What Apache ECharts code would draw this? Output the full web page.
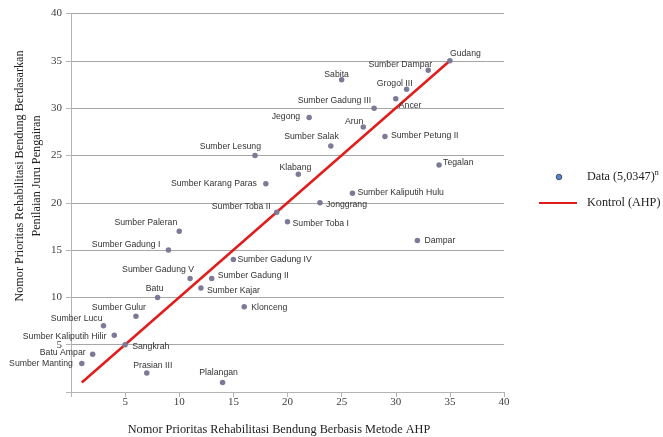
<!DOCTYPE html>
<html>
<head>
<meta charset="utf-8">
<script src="https://cdn.jsdelivr.net/npm/echarts@6/dist/echarts.min.js"></script>
<style>
  html, body { margin: 0; padding: 0; background: #ffffff; }
  #chart { width: 663px; height: 437px; }
</style>
</head>
<body>
<div id="chart"></div>
<script>
// Weir names, ordered by their AHP priority rank
const bendungNames = [
  'Sumber Manting', 'Batu Ampar', 'Sumber Lucu', 'Sumber Kaliputih Hilir', 'Sangkrah',
  'Sumber Gulur', 'Prasian III', 'Batu', 'Sumber Gadung I', 'Sumber Paleran',
  'Sumber Gadung V', 'Sumber Kajar', 'Sumber Gadung II', 'Plalangan', 'Sumber Gadung IV',
  'Klonceng', 'Sumber Lesung', 'Sumber Karang Paras', 'Sumber Toba II', 'Sumber Toba I',
  'Klabang', 'Jegong', 'Jonggrang', 'Sumber Salak', 'Sabita',
  'Sumber Kaliputih Hulu', 'Arun', 'Sumber Gadung III', 'Sumber Petung II', 'Ancer',
  'Grogol III', 'Dampar', 'Sumber Dampar', 'Tegalan', 'Gudang'
];
// Priority number from the AHP method (x)
const ahpRank = [
  1, 2, 3, 4, 5, 6, 7, 8, 9, 10, 11, 12, 13, 14, 15, 16, 17, 18,
  19, 20, 21, 22, 23, 24, 25, 26, 27, 28, 29, 30, 31, 32, 33, 34, 35
];
// Priority number from the irrigation officers' assessment (y)
const juruRank = [
  3, 4, 7, 6, 5, 8, 2, 10, 15, 17, 12, 11, 12, 1, 14, 9, 25, 22,
  19, 18, 23, 29, 20, 26, 33, 21, 28, 30, 27, 31, 32, 16, 34, 24, 35
];
// Control line (AHP against itself)
const kontrolX = [1, 35];
const kontrolY = [1, 35];

const seriesNames = ['Data (5,0347)', 'Kontrol (AHP)'];
const dataSuperscript = 'n';
const xTitle = 'Nomor Prioritas Rehabilitasi Bendung Berbasis Metode AHP';
const yTitleLines = ['Nomor Prioritas Rehabilitasi Bendung Berdasarkan', 'Penilaian Juru Pengairan'];

// Label placement for each point: text alignment and offset from the dot (px)
const labelPlace = {
  'Sumber Manting': ['right', -9, 0],
  'Batu Ampar': ['right', -7, -2],
  'Sumber Lucu': ['right', -1, -7],
  'Sumber Kaliputih Hilir': ['right', -8, 1],
  'Sangkrah': ['left', 7, 2],
  'Sumber Gulur': ['right', 10, -9],
  'Prasian III': ['center', 6, -7],
  'Batu': ['center', -3, -9],
  'Sumber Gadung I': ['right', -8, -5],
  'Sumber Paleran': ['right', -2, -9],
  'Sumber Gadung V': ['right', 4, -9],
  'Sumber Kajar': ['left', 6, 3],
  'Sumber Gadung II': ['left', 6, -3],
  'Plalangan': ['center', -4, -10],
  'Sumber Gadung IV': ['left', 4, 0],
  'Klonceng': ['left', 7, 1],
  'Sumber Lesung': ['right', 6, -8.5],
  'Sumber Karang Paras': ['right', -9, 0],
  'Sumber Toba II': ['right', -6, -6],
  'Sumber Toba I': ['left', 5, 2],
  'Klabang': ['right', 13, -7],
  'Jegong': ['right', -9, -1],
  'Jonggrang': ['left', 6, 2],
  'Sumber Salak': ['right', 8, -9.5],
  'Sabita': ['center', -5, -5],
  'Sumber Kaliputih Hulu': ['left', 5, -1],
  'Arun': ['right', 0, -5],
  'Sumber Gadung III': ['right', -3, -8],
  'Sumber Petung II': ['left', 6, -1],
  'Ancer': ['left', 3, 7],
  'Grogol III': ['right', 6, -6],
  'Dampar': ['left', 7, 0],
  'Sumber Dampar': ['right', 4, -6],
  'Tegalan': ['left', 4, -2],
  'Gudang': ['left', 0, -7]
};

const DOT = 5.5;
const serif = "'Liberation Serif', 'Times New Roman', serif";
const sans = "'Liberation Sans', Arial, sans-serif";

const scatterData = bendungNames.map((name, i) => {
  const p = labelPlace[name] || ['left', 6, 0];
  return {
    name: name,
    value: [ahpRank[i], juruRank[i]],
    label: {
      position: [DOT / 2 + p[1], DOT / 2 + p[2]],
      align: p[0],
      verticalAlign: 'middle'
    }
  };
});

const kontrolData = kontrolX.map((x, i) => [x, kontrolY[i]]);

const chart = echarts.init(document.getElementById('chart'), null, { renderer: 'canvas' });

chart.setOption({
  animation: false,
  backgroundColor: '#ffffff',
  grid: { left: 71, top: 13.5, right: 159, bottom: 45, containLabel: false },
  xAxis: {
    type: 'value',
    min: 0, max: 40, interval: 5,
    axisLine: { show: true, lineStyle: { color: '#b4b4b4', width: 1 } },
    axisTick: { show: true, inside: false, length: 5, lineStyle: { color: '#b4b4b4' } },
    splitLine: { show: false },
    axisLabel: {
      margin: 5,
      color: '#404040',
      fontFamily: serif,
      fontSize: 11,
      formatter: v => (v === 0 ? '' : String(v))
    }
  },
  yAxis: {
    type: 'value',
    min: 0, max: 40, interval: 5,
    axisLine: { show: true, lineStyle: { color: '#b4b4b4', width: 1 } },
    axisTick: { show: true, inside: false, length: 5, lineStyle: { color: '#b4b4b4' } },
    splitLine: { show: true, lineStyle: { color: '#a6a6a6', width: 1 } },
    axisLabel: {
      margin: 9,
      color: '#404040',
      fontFamily: serif,
      fontSize: 11,
      formatter: v => (v === 0 ? '' : String(v))
    }
  },
  series: [
    {
      name: seriesNames[1],
      type: 'line',
      data: kontrolData,
      symbol: 'none',
      z: 2,
      lineStyle: { color: '#e21b1b', width: 2.5 }
    },
    {
      name: seriesNames[0],
      type: 'scatter',
      data: scatterData,
      symbol: 'circle',
      symbolSize: DOT,
      z: 3,
      itemStyle: { color: '#7b7b97', opacity: 1 },
      label: {
        show: true,
        formatter: '{b}',
        color: '#333333',
        fontFamily: sans,
        fontSize: 8.7
      },
      emphasis: { disabled: true }
    }
  ],
  graphic: [
    // y axis title (two lines)
    {
      type: 'text',
      x: 28, y: 176,
      rotation: Math.PI / 2,
      style: {
        text: yTitleLines.join('\n'),
        fontFamily: serif,
        fontSize: 12.2,
        lineHeight: 17,
        fill: '#222222',
        align: 'center',
        verticalAlign: 'middle'
      }
    },
    // x axis title
    {
      type: 'text',
      x: 279, y: 430,
      style: {
        text: xTitle,
        fontFamily: serif,
        fontSize: 12.3,
        fill: '#222222',
        align: 'center',
        verticalAlign: 'middle'
      }
    },
    // legend: data marker
    {
      type: 'circle',
      shape: { cx: 559, cy: 177, r: 2.8 },
      style: { fill: '#5a85c4', stroke: '#2a3a5a', lineWidth: 0.8 }
    },
    {
      type: 'text',
      x: 587, y: 177,
      style: {
        text: '{t|' + seriesNames[0] + '}{s|' + dataSuperscript + '}',
        rich: {
          t: { fontFamily: serif, fontSize: 12.2, fill: '#222222', verticalAlign: 'middle' },
          s: { fontFamily: serif, fontSize: 8, fill: '#222222', padding: [0, 0, 9, 0] }
        },
        align: 'left',
        verticalAlign: 'middle'
      }
    },
    // legend: control line
    {
      type: 'line',
      shape: { x1: 539, y1: 203, x2: 577, y2: 203 },
      style: { stroke: '#e21b1b', lineWidth: 2 }
    },
    {
      type: 'text',
      x: 587, y: 203,
      style: {
        text: seriesNames[1],
        fontFamily: serif,
        fontSize: 12.2,
        fill: '#222222',
        align: 'left',
        verticalAlign: 'middle'
      }
    }
  ]
});
</script>
</body>
</html>
